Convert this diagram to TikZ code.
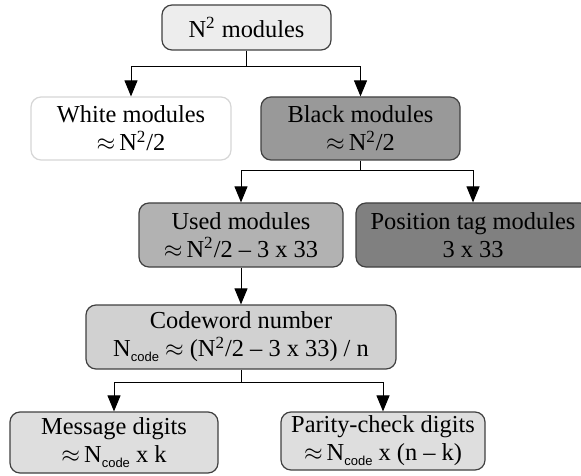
\documentclass[tikz,border=0pt]{standalone}
\usepackage{fontspec}
\setmainfont{Liberation Serif}
\setsansfont{Liberation Sans}
\usetikzlibrary{arrows.meta}
\definecolor{edge}{gray}{0.25}
\definecolor{paleedge}{gray}{0.84}
\definecolor{topfill}{gray}{0.93}
\definecolor{blackfill}{gray}{0.60}
\definecolor{usedfill}{gray}{0.70}
\definecolor{tagfill}{gray}{0.50}
\definecolor{codefill}{gray}{0.82}
\definecolor{digitfill}{gray}{0.87}
\newcommand{\Ncode}{N\raisebox{-0.45ex}{\fontsize{6.5}{7}\sffamily code}}
\tikzset{
  box/.style={draw=edge, line width=.6pt, rounded corners=5pt, align=center,
              inner sep=0pt, font=\fontsize{12.2}{14}\selectfont},
  conn/.style={draw=black, line width=.5pt,
               -{Triangle[length=8pt, width=6.5pt]}},
}

\begin{document}
\begin{tikzpicture}[x=0.5pt, y=-0.5pt]
\useasboundingbox (0,0) rectangle (581,475);

% first split: all modules
\node[box, fill=topfill, minimum width=84.5pt, minimum height=22.5pt]
  (all) at (246.5,27.5) {N\textsuperscript{2} modules};
\node[box, draw=paleedge, fill=white, minimum width=100pt, minimum height=31.5pt]
  (white) at (131,128.5) {White modules\\$\approx$\,N\textsuperscript{2}/2};
\node[box, fill=blackfill, minimum width=99.5pt, minimum height=31.5pt]
  (black) at (360.5,128.5) {Black modules\\$\approx$\,N\textsuperscript{2}/2};

% second split: black modules
\node[box, fill=usedfill, minimum width=102pt, minimum height=32pt]
  (used) at (241,235) {Used modules\\$\approx$\,N\textsuperscript{2}/2 -- 3 x 33};
\node[box, fill=tagfill, minimum width=117pt, minimum height=32pt]
  (tag) at (473,235) {Position tag modules\\3 x 33};

\node[box, fill=codefill, minimum width=155pt, minimum height=32pt]
  (codeword) at (241,337) {Codeword number\\\Ncode\ $\approx$ (N\textsuperscript{2}/2 -- 3 x 33) / n};

% third split: codeword digits
\node[box, fill=digitfill, minimum width=104pt, minimum height=30.5pt]
  (message) at (114,442.5) {Message digits\\$\approx$\,\Ncode\ x k};
\node[box, fill=digitfill, minimum width=102pt, minimum height=29pt]
  (parity) at (383,441) {Parity-check digits\\$\approx$\,\Ncode\ x (n -- k)};

\draw[conn] (all.south) -- ++(0,16) coordinate (j1) -| (white.north);
\draw[conn] (j1) -| (black.north);
\draw[conn] (black.south) -- ++(0,10) coordinate (j2) -| (used.north);
\draw[conn] (j2) -| (tag.north);
\draw[conn] (used.south) -- (codeword.north);
\draw[conn] (codeword.south) -- ++(0,13) coordinate (j3) -| (message.north);
\draw[conn] (j3) -| (parity.north);
\end{tikzpicture}
\end{document}
